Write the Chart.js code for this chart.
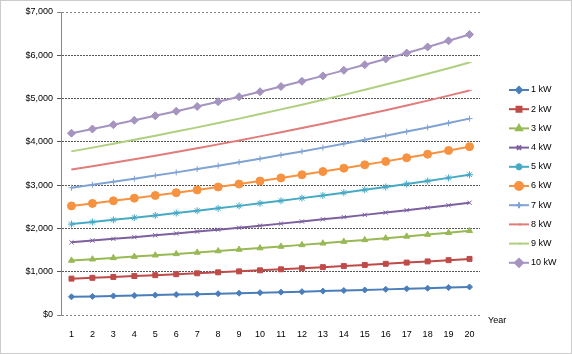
<!DOCTYPE html>
<html>
<head>
<meta charset="utf-8">
<script src="https://cdn.jsdelivr.net/npm/chart.js@4"></script>
<style>
  html, body { margin: 0; padding: 0; background: #fff; }
  canvas { display: block; }
</style>
</head>
<body>
<canvas id="chart_solar" width="572" height="354"></canvas>
<script>
// years on the x axis
const years = ['1', '2', '3', '4', '5', '6', '7', '8', '9', '10', '11', '12', '13', '14', '15', '16', '17', '18', '19', '20'];
const seriesNames = ['1 kW', '2 kW', '3 kW', '4 kW', '5 kW', '6 kW', '7 kW', '8 kW', '9 kW', '10 kW'];

// yearly values ($)
const kw1 = [420, 430, 440, 450, 460, 471, 482, 493, 504, 516, 528, 540, 552, 565, 578, 592, 605, 619, 634, 648];
const kw2 = [840, 859, 879, 900, 920, 942, 963, 986, 1008, 1032, 1056, 1080, 1105, 1130, 1156, 1183, 1211, 1238, 1267, 1296];
const kw3 = [1260, 1289, 1319, 1349, 1381, 1412, 1445, 1478, 1513, 1547, 1583, 1620, 1657, 1696, 1735, 1775, 1816, 1858, 1901, 1945];
const kw4 = [1680, 1719, 1759, 1799, 1841, 1883, 1927, 1971, 2017, 2063, 2111, 2160, 2210, 2261, 2313, 2366, 2421, 2477, 2534, 2593];
const kw5 = [2100, 2149, 2198, 2249, 2301, 2354, 2408, 2464, 2521, 2579, 2639, 2700, 2762, 2826, 2891, 2958, 3026, 3096, 3168, 3241];
const kw6 = [2520, 2578, 2638, 2699, 2761, 2825, 2890, 2957, 3025, 3095, 3167, 3240, 3314, 3391, 3469, 3549, 3632, 3715, 3801, 3889];
const kw7 = [2940, 3008, 3077, 3148, 3221, 3295, 3372, 3449, 3529, 3611, 3694, 3779, 3867, 3956, 4047, 4141, 4237, 4334, 4434, 4537];
const kw8 = [3360, 3438, 3517, 3598, 3681, 3766, 3853, 3942, 4033, 4127, 4222, 4319, 4419, 4521, 4626, 4732, 4842, 4953, 5068, 5185];
const kw9 = [3780, 3867, 3956, 4048, 4141, 4237, 4335, 4435, 4537, 4643, 4750, 4859, 4972, 5086, 5204, 5324, 5447, 5573, 5701, 5833];
const kw10 = [4200, 4297, 4396, 4498, 4602, 4708, 4817, 4928, 5042, 5158, 5278, 5399, 5524, 5652, 5782, 5916, 6052, 6192, 6335, 6482];

const yMin = 0, yMax = 7000, yStep = 1000;

const allValues = [kw1, kw2, kw3, kw4, kw5, kw6, kw7, kw8, kw9, kw10];
const colors = ['#4a7ebb', '#be4b48', '#98b954', '#7d60a0', '#46aac5', '#f69240', '#7fa3d3', '#e07c7a', '#b0d080', '#a593c0'];
const markers = ['rectRot', 'rect', 'triangle', 'crossRot', 'star', 'circle', 'cross', 'dash', 'dash', 'rectRot'];
const radii = [3, 3.5, 3.5, 3, 3.5, 4, 3, 2, 2, 4];

const FONT = 'Liberation Sans, Arial, sans-serif';

const datasets = seriesNames.map((name, i) => ({
    label: name,
    data: allValues[i],
    borderColor: colors[i],
    backgroundColor: colors[i],
    borderWidth: 2,
    pointStyle: markers[i],
    pointRadius: radii[i],
    pointBorderWidth: 1,
    tension: 0
}));

// legend at right, "Year" label and outer dotted frame
const extras = {
    id: 'extras',
    afterDraw(chart) {
        const ctx = chart.ctx;
        ctx.save();
        chart.data.datasets.forEach((ds, i) => {
            const y = 90 + i * 19.2;
            ctx.strokeStyle = ds.borderColor;
            ctx.fillStyle = ds.borderColor;
            ctx.lineWidth = 2;
            ctx.setLineDash([]);
            ctx.beginPath();
            ctx.moveTo(509, y);
            ctx.lineTo(529, y);
            ctx.stroke();
            Chart.helpers.drawPoint(ctx, {
                pointStyle: ds.pointStyle,
                radius: ds.pointRadius,
                rotation: 0,
                borderWidth: 1
            }, 519, y);
            ctx.fillStyle = '#000';
            ctx.font = '9px ' + FONT;
            ctx.textAlign = 'left';
            ctx.textBaseline = 'middle';
            ctx.fillText(ds.label, 531, y);
        });
        ctx.fillStyle = '#000';
        ctx.font = '9px ' + FONT;
        ctx.textAlign = 'left';
        ctx.textBaseline = 'middle';
        ctx.fillText('Year', 488, 321);

        ctx.strokeStyle = '#999';
        ctx.lineWidth = 1;
        ctx.setLineDash([1, 1]);
        ctx.strokeRect(0.5, 0.5, 571, 353);
        ctx.restore();
    }
};

const ctxSolar = document.getElementById('chart_solar');
const solarChart = new Chart(ctxSolar, {
    type: 'line',
    data: {
        labels: years,
        datasets: datasets
    },
    options: {
        responsive: false,
        animation: false,
        layout: {
            padding: { left: 0, right: 92, top: 12, bottom: 0 }
        },
        plugins: {
            legend: { display: false },
            tooltip: { enabled: false }
        },
        scales: {
            x: {
                offset: true,
                grid: { display: false, drawTicks: false },
                border: { display: false },
                ticks: {
                    color: '#000',
                    font: { family: FONT, size: 9 },
                    padding: 14,
                    autoSkip: false,
                    maxRotation: 0
                },
                afterFit(scale) { scale.height = 39; }
            },
            y: {
                min: yMin,
                max: yMax,
                ticks: {
                    stepSize: yStep,
                    color: '#000',
                    font: { family: FONT, size: 9 },
                    padding: 4,
                    callback: v => '$' + v.toLocaleString('en-US')
                },
                grid: {
                    color: ctx => (ctx.tick && (ctx.tick.value === yMin || ctx.tick.value === yMax)) ? '#888' : '#555',
                    tickLength: 4,
                    lineWidth: 1
                },
                border: {
                    display: true,
                    color: '#888',
                    width: 1,
                    dash: ctx => (ctx.tick && (ctx.tick.value === yMin || ctx.tick.value === yMax)) ? [2, 2] : [2, 1]
                },
                afterFit(scale) { scale.width = 61; }
            }
        }
    },
    plugins: [extras]
});
</script>
</body>
</html>
